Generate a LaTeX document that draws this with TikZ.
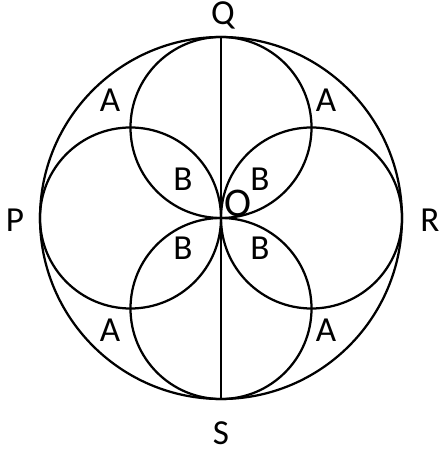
\documentclass[tikz,border=0pt]{standalone}
\usepackage{fontspec}
\setmainfont{Carlito}
\usetikzlibrary{positioning}

\begin{document}
\begin{tikzpicture}[
    every node/.style={font=\fontsize{25}{29}\selectfont},
    ring/.style={circle, draw, line width=1.6pt, inner sep=0pt},
    lbl/.style={inner sep=0pt}
]
\useasboundingbox (-5.525,-5.875) rectangle (5.475,5.45);
% outer circle and the four inner circles
\node[ring, minimum size=9.05cm] (big) at (0,0) {};
\node[ring, minimum size=4.525cm] (up)    at (0, 2.2625) {};
\node[ring, minimum size=4.525cm] (down)  at (0,-2.2625) {};
\node[ring, minimum size=4.525cm] (left)  at (-2.2625,0) {};
\node[ring, minimum size=4.525cm] (right) at ( 2.2625,0) {};
\draw[line width=0.8pt] (big.north) -- (big.south);
% labels
\node[lbl] (q) at (0.05, 5.07) {Q};
\node[lbl] (s) at (0, -5.375) {S};
\node[lbl] (p) at (-5.15, -0.05) {P};
\node[lbl] (r) at (5.225, -0.05) {R};
\node[lbl, font=\fontsize{29}{33}\selectfont] (o) at (0.425, 0.375) {O};
\foreach \x/\y [count=\i] in {-0.95/0.975, 0.975/0.975, -0.95/-0.75, 0.975/-0.75}
  \node[lbl] (b\i) at (\x,\y) {B};
\foreach \x/\y [count=\i] in {-2.775/2.95, 2.625/2.95, -2.775/-2.8, 2.625/-2.8}
  \node[lbl] (a\i) at (\x,\y) {A};
\end{tikzpicture}
\end{document}
